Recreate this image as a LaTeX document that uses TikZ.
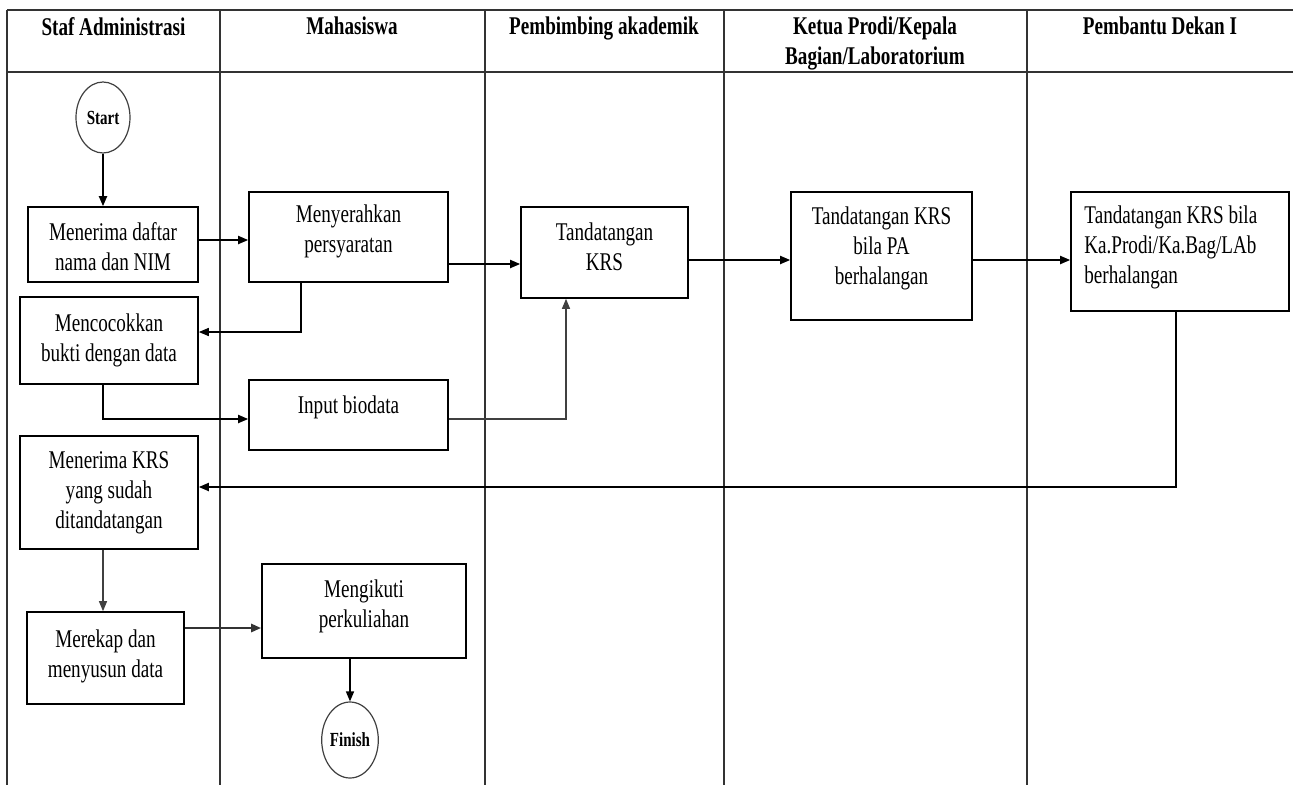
\documentclass[tikz,border=0pt]{standalone}
\usepackage{fontspec}
\setmainfont{Liberation Serif}[FakeStretch=0.75]
\usetikzlibrary{arrows.meta,shapes.geometric}

\begin{document}
\begin{tikzpicture}[x=1pt,y=-1pt,
  lane/.style={draw=black!80, line width=1.4pt},
  box/.style={draw=black, line width=1.6pt, rectangle, inner sep=0pt},
  txt/.style={align=center, font=\fontsize{25.5}{30}\selectfont, inner sep=0pt},
  head/.style={align=center, font=\fontsize{25.5}{30}\selectfont\bfseries, inner sep=0pt, anchor=north},
  term/.style={draw=black!75, line width=1.2pt, ellipse, inner sep=0pt,
               font=\fontsize{20}{22}\selectfont\bfseries},
  arr/.style={draw=black, line width=1.8pt, -{Triangle[length=10pt,width=8pt]}},
  arrthin/.style={draw=black!75, line width=1.2pt, -{Triangle[length=10pt,width=8pt]}},
]
\useasboundingbox (0,0) rectangle (1293,785);

% swimlane grid
\draw[lane] (7,10) -- (1293,10);
\draw[lane] (7,72) -- (1293,72);
\draw[lane] (7,10) -- (7,785);
\foreach \x in {220,485,724,1027} \draw[lane] (\x,10) -- (\x,785);

% lane headers
\node[head] (h1) at (113.5,17) {Staf Administrasi};
\node[head] (h2) at (352,17) {Mahasiswa};
\node[head] (h3) at (604,17) {Pembimbing akademik};
\node[head] (h4) at (875,17) {Ketua Prodi/Kepala\\Bagian/Laboratorium};
\node[head] (h5) at (1160,17) {Pembantu Dekan I};

% terminators
\node[term, minimum width=54pt, minimum height=71pt] (start) at (103,117.5) {Start};
\node[term, minimum width=51pt, minimum height=76pt] (finish) at (350,740) {Finish};

% process steps
\node[box, minimum width=170pt, minimum height=75pt,
  label={[txt,yshift=-2pt]center:Menerima daftar\\nama dan NIM}] (daftar) at (113,244.5) {};
\node[box, minimum width=199pt, minimum height=90pt,
  label={[txt,yshift=6pt]center:Menyerahkan\\persyaratan}] (serah) at (348.5,237) {};
\node[box, minimum width=178pt, minimum height=87pt,
  label={[txt]center:Mencocokkan\\bukti dengan data}] (cocok) at (109,340.5) {};
\node[box, minimum width=199pt, minimum height=70pt,
  label={[txt,yshift=8pt]center:Input biodata}] (input) at (348.5,415) {};
\node[box, minimum width=167pt, minimum height=91pt,
  label={[txt,yshift=6pt]center:Tandatangan\\KRS}] (ttd) at (604.5,252.5) {};
\node[box, minimum width=181pt, minimum height=128pt,
  label={[txt,yshift=8pt]center:Tandatangan KRS\\bila PA\\berhalangan}] (pa) at (881.5,256) {};
\node[box, minimum width=218pt, minimum height=119pt,
  label={[txt,align=left,anchor=west,xshift=14pt,yshift=4pt]west:Tandatangan KRS bila\\Ka.Prodi/Ka.Bag/LAb\\berhalangan}] (pem) at (1180,251.5) {};
\node[box, minimum width=178pt, minimum height=113pt,
  label={[txt]center:Menerima KRS\\yang sudah\\ditandatangan}] (terima) at (109,492.5) {};
\node[box, minimum width=157pt, minimum height=92pt,
  label={[txt,yshift=2pt]center:Merekap dan\\menyusun data}] (rekap) at (105.5,658) {};
\node[box, minimum width=204pt, minimum height=94pt,
  label={[txt,yshift=5pt]center:Mengikuti\\perkuliahan}] (ikut) at (364,611) {};

% flow
\draw[arr] (start.south) -- (start.south |- daftar.north);
\draw[arr] (daftar.east |- 0,240) -- (serah.west |- 0,240);
\draw[arr] (serah.east |- 0,264) -- (ttd.west |- 0,264);
\draw[arr] (ttd.east |- 0,260) -- (pa.west |- 0,260);
\draw[arr] (pa.east |- 0,260) -- (pem.west |- 0,260);
\draw[arr, line width=1.5pt] (serah.south -| 301,0) |- (cocok.east |- 0,332);
\draw[arr] (cocok.south -| 103,0) |- (input.west |- 0,419);
\draw[arrthin] (input.east |- 0,419) -| (ttd.south -| 566,0);
\draw[arr] (pem.south -| 1176,0) |- (terima.east |- 0,487);
\draw[arrthin] (terima.south -| 103,0) -- (rekap.north -| 103,0);
\draw[arr, draw=black!80, line width=2.6pt] (rekap.east |- 0,628) -- (ikut.west |- 0,628);
\draw[arr, line width=1.5pt] (finish.north |- ikut.south) -- (finish.north);
\end{tikzpicture}
\end{document}
